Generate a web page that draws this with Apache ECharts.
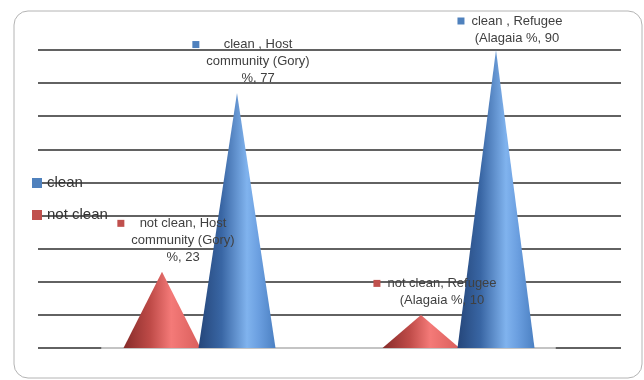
<!DOCTYPE html>
<html>
<head>
<meta charset="utf-8">
<script src="https://cdn.jsdelivr.net/npm/echarts@6/dist/echarts.min.js"></script>
<style>
  html, body { margin: 0; padding: 0; background: #ffffff; }
  #chart { width: 644px; height: 380px; }
</style>
</head>
<body>
<div id="chart"></div>
<script>
// Category names carry their own line breaks for the data labels
const categories = ['Host\ncommunity (Gory)\n%', 'Refugee\n(Alagaia %'];
const seriesNames = ['not clean', 'clean '];
const notCleanValues = [23, 10];
const cleanValues = [77, 90];
const yMin = 0, yMax = 90, yStep = 10;

const RED = '#c0504d';
const BLUE = '#4f81bd';
const FONT = '"Liberation Sans", Arial, sans-serif';

// Horizontal shading that gives the cones their rounded look
function coneFill(stops) {
  return new echarts.graphic.LinearGradient(0, 0, 1, 0,
    stops.map(s => ({ offset: s[0], color: s[1] })));
}
const redFill = coneFill([[0, '#862b29'], [0.35, '#bf4b48'], [0.62, '#f47a78'], [1, '#d95e5b']]);
const blueFill = coneFill([[0, '#25467a'], [0.3, '#3966a4'], [0.63, '#80b3ee'], [0.78, '#6b9fe0'], [1, '#4b80c2']]);

function labelText(p) {
  const lines = (p.seriesName + ', ' + p.name + ', ' + p.value).split('\n');
  return lines.map((l, i) => (i === 0 ? '{sq|}{gap|}' : '{pad|}') + '{t|' + l + '}').join('\n');
}

// Shift labels right of the cone tip, and keep them inside the frame
function placeLabel(p) {
  const top = 14.5;
  const y = p.labelRect.y;
  return { dx: 14, dy: y < top ? top - y : 0 };
}

function labelFor(color) {
  return {
    show: true,
    position: 'top',
    distance: 6,
    formatter: labelText,
    rich: {
      sq: { width: 7, height: 7, backgroundColor: color, align: 'left' },
      gap: { width: 7, height: 7, align: 'left' },
      pad: { width: 14, height: 7, align: 'left' },
      t: { fontFamily: FONT, fontSize: 13, lineHeight: 17, color: '#404040' }
    }
  };
}

const coneCommon = {
  type: 'pictorialBar',
  symbol: 'triangle',
  symbolSize: ['100%', '100%'],
  barWidth: 77,
  barGap: '-2.6%'
};

const chart = echarts.init(document.getElementById('chart'), null, { renderer: 'canvas' });

const plotGrid = { top: 50, bottom: 32 };
const hiddenY = gi => ({ gridIndex: gi, type: 'value', min: yMin, max: yMax, interval: yStep, show: false, splitLine: { show: false } });

chart.setOption({
  animation: false,
  backgroundColor: '#ffffff',
  graphic: [{
    type: 'rect',
    shape: { x: 14, y: 11, width: 628, height: 367, r: 14 },
    style: { fill: 'none', stroke: '#b4b4b4', lineWidth: 1 },
    z: -1
  }],
  legend: {
    orient: 'vertical',
    left: 32,
    top: 175,
    padding: 0,
    itemWidth: 10,
    itemHeight: 10,
    itemGap: 16,
    icon: 'rect',
    formatter: n => n.trim(),
    textStyle: { fontFamily: FONT, fontSize: 15, lineHeight: 16, color: '#333333' },
    data: [
      { name: seriesNames[1], itemStyle: { color: BLUE } },
      { name: seriesNames[0], itemStyle: { color: RED } }
    ]
  },
  grid: [
    Object.assign({ left: 38, right: 23 }, plotGrid),   // gridlines
    Object.assign({ left: 70, right: 56 }, plotGrid),   // cones
    Object.assign({ left: 102, right: 89 }, plotGrid),  // floor edge
    Object.assign({ left: 70, right: 56 }, plotGrid)    // data labels
  ],
  xAxis: [
    { gridIndex: 0, type: 'category', data: categories, show: false },
    { gridIndex: 1, type: 'category', data: categories, show: false },
    {
      gridIndex: 2, type: 'category', data: categories, offset: 1,
      axisLine: { show: true, lineStyle: { color: '#c4c4c4', width: 2 } },
      axisTick: { show: false }, axisLabel: { show: false }, z: 0
    },
    { gridIndex: 3, type: 'category', data: categories, show: false }
  ],
  yAxis: [
    {
      gridIndex: 0, type: 'value', min: yMin, max: yMax, interval: yStep,
      axisLine: { show: false }, axisTick: { show: false }, axisLabel: { show: false },
      splitLine: { show: true, lineStyle: { color: '#2e2e2e', width: 1.5 } }
    },
    hiddenY(1), hiddenY(2), hiddenY(3)
  ],
  series: [
    Object.assign({}, coneCommon, {
      name: seriesNames[0], xAxisIndex: 1, yAxisIndex: 1,
      itemStyle: { color: redFill }, data: notCleanValues, z: 3
    }),
    Object.assign({}, coneCommon, {
      name: seriesNames[1], xAxisIndex: 1, yAxisIndex: 1,
      itemStyle: { color: blueFill }, data: cleanValues, z: 4
    }),
    // labels sit above both cones
    Object.assign({}, coneCommon, {
      name: seriesNames[0], xAxisIndex: 3, yAxisIndex: 3,
      itemStyle: { color: 'transparent' }, label: labelFor(RED),
      labelLayout: placeLabel, data: notCleanValues, z: 10, silent: true
    }),
    Object.assign({}, coneCommon, {
      name: seriesNames[1], xAxisIndex: 3, yAxisIndex: 3,
      itemStyle: { color: 'transparent' }, label: labelFor(BLUE),
      labelLayout: placeLabel, data: cleanValues, z: 10, silent: true
    })
  ]
});
</script>
</body>
</html>
